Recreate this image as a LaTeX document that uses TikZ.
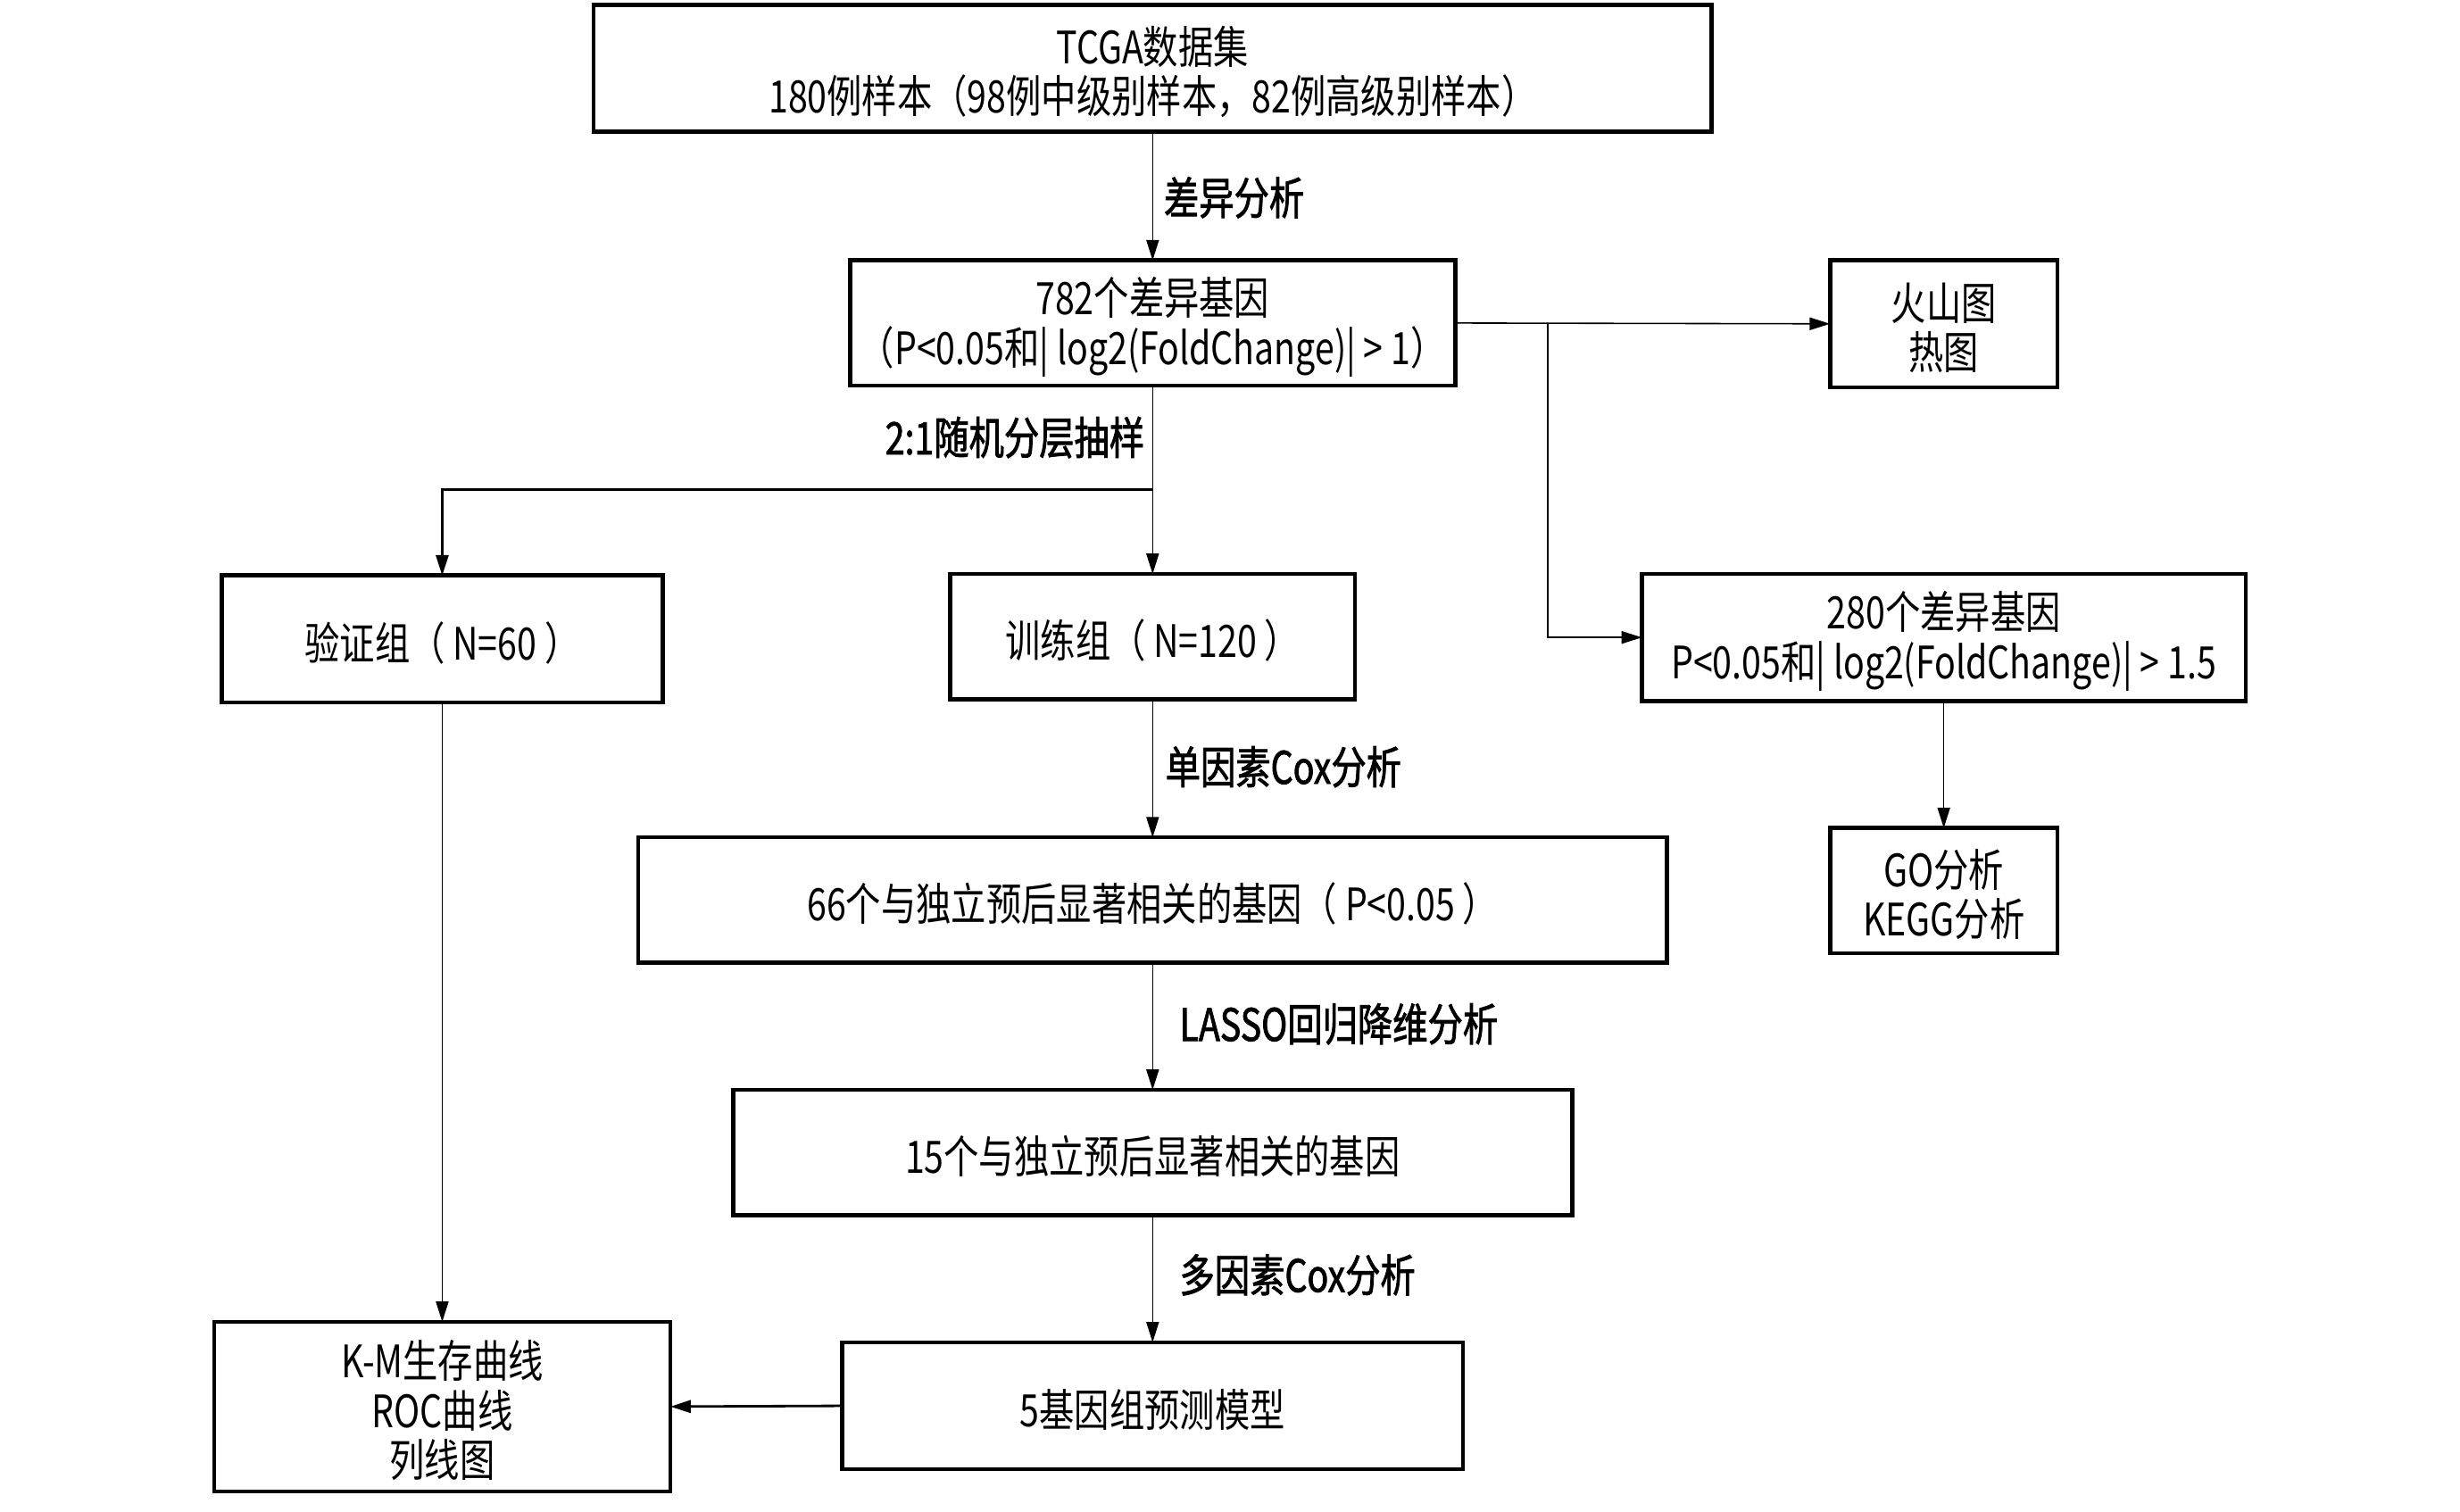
\documentclass[tikz,border=0pt]{standalone}
\usepackage{fontspec}
\setmainfont{Noto Sans CJK SC}[FakeStretch=0.785]
\newfontfamily\lblfont{Noto Sans CJK SC}[FakeStretch=0.785,FakeBold=1.6]
\usetikzlibrary{arrows.meta}
\begin{document}
\begin{tikzpicture}[x=1pt,y=-1pt,
  txt/.style={inner sep=0pt,align=center,yshift=-2.5pt,font=\fontsize{28.5}{31.5}\selectfont},
  box/.style={draw=black,line width=2.6pt,rectangle,inner sep=0pt,outer sep=0pt,
    label={[txt]center:{#1}}},
  arr/.style={draw=black,line width=0.9pt,-{Triangle[length=13pt,width=8pt]}},
  lbl/.style={font=\fontsize{28.5}{30}\lblfont,inner sep=0pt}]
\useasboundingbox (0,0) rectangle (1568.7,963.7);
\fill[white] (0,0) rectangle (1568.7,963.7);
% boxes
\node[box={TCGA数据集\\180例样本（98例中级别样本，82例高级别样本）},minimum width=713pt,minimum height=81pt] (tcga) at (735,43.5) {};
\node[box={782个差异基因\\（P<0.05和| log2(FoldChange)| > 1）},minimum width=386pt,minimum height=80pt] (deg) at (735,206) {};
\node[box={火山图\\热图},minimum width=145pt,minimum height=81pt] (volc) at (1239.5,206.5) {};
\node[box={280个差异基因\\P<0.05和| log2(FoldChange)| > 1.5},minimum width=385pt,minimum height=81pt] (deg2) at (1239.5,406.5) {};
\node[box={GO分析\\KEGG分析},minimum width=145pt,minimum height=80pt] (go) at (1239.5,568) {};
\node[box={验证组（ N=60 ）},minimum width=281pt,minimum height=81pt] (valid) at (282,407.5) {};
\node[box={训练组（ N=120 ）},minimum width=258pt,minimum height=80pt] (train) at (735,406) {};
\node[box={66个与独立预后显著相关的基因（ P<0.05 ）},minimum width=656pt,minimum height=80pt] (g66) at (735,574) {};
\node[box={15个与独立预后显著相关的基因},minimum width=535pt,minimum height=80pt] (g15) at (735,735) {};
\node[box={5基因组预测模型},minimum width=396pt,minimum height=81pt] (model) at (735,896.5) {};
\node[box={K-M生存曲线\\ROC曲线\\列线图},minimum width=291pt,minimum height=108pt] (km) at (282,897) {};
% connectors
\draw[arr] (tcga.south) -- (deg.north);
\node[lbl,anchor=west] (l1) at (742,126) {差异分析};
\draw[arr] (deg.east) -- (volc.west);
\coordinate (b1) at (987,206);
\draw[arr] (b1) |- (deg2.west);
\draw[arr] (deg2.south) -- (go.north);
\draw[arr] (deg.south) -- (train.north);
\node[lbl,anchor=east] (l2) at (730,279) {2:1随机分层抽样};
\coordinate (b2) at (735,312);
\draw[arr,line width=1.6pt] (b2) -| (valid.north);
\draw[arr] (valid.south) -- (km.north);
\draw[arr] (train.south) -- (g66.north);
\node[lbl,anchor=west] (l3) at (743,489) {单因素Cox分析};
\draw[arr] (g66.south) -- (g15.north);
\node[lbl,anchor=west] (l4) at (752,653) {LASSO回归降维分析};
\draw[arr] (g15.south) -- (model.north);
\node[lbl,anchor=west] (l5) at (752,813) {多因素Cox分析};
\draw[arr,line width=1.6pt] (model.west) -- (km.east);
\end{tikzpicture}
\end{document}
